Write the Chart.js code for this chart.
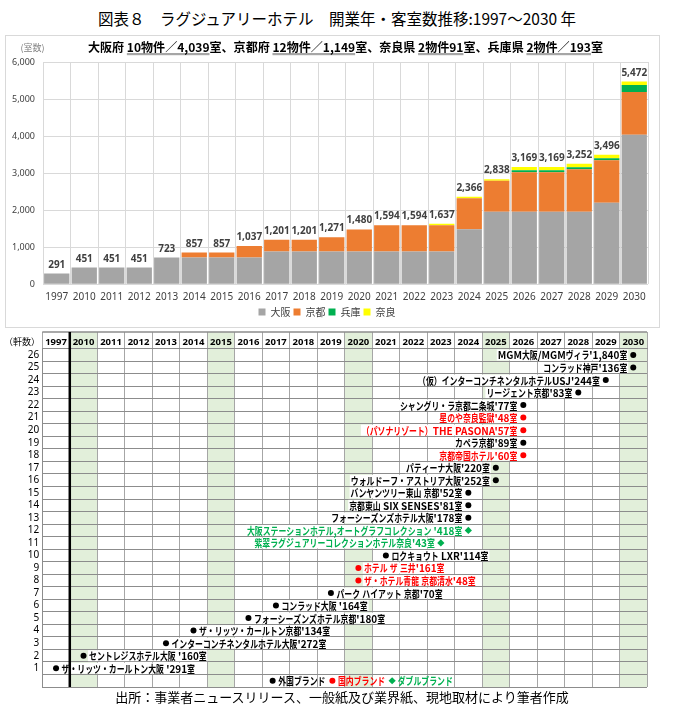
<!DOCTYPE html>
<html><head><meta charset="utf-8">
<script src="https://cdn.jsdelivr.net/npm/chart.js@4.4.1/dist/chart.umd.min.js"></script>
<style>
html,body{margin:0;padding:0;background:#fff;}
body{width:684px;height:711px;position:relative;overflow:hidden;font-family:"Noto Sans CJK JP","Noto Sans",sans-serif;}
#title{position:absolute;left:0;top:7px;width:674px;text-align:center;font-size:15.5px;color:#000;line-height:22px;}
#box1{position:absolute;left:5px;top:35px;width:653px;height:291px;border:1px solid #d9d9d9;}
#box2{position:absolute;left:0;top:328px;width:684px;height:368px;}
#source{position:absolute;left:0;top:687px;width:684px;text-align:center;font-size:13px;line-height:20px;color:#000;}
</style>
</head><body>
<div id="title">図表８　ラグジュアリーホテル　開業年・客室数推移:1997～2030 年</div>
<div id="box1"><canvas id="c1"></canvas></div>
<div id="box2"><canvas id="c2"></canvas></div>
<div id="source">出所：事業者ニュースリリース、一般紙及び業界紙、現地取材により筆者作成</div>
<script>
// ---------- data ----------
const years = ['1997','2010','2011','2012','2013','2014','2015','2016','2017','2018','2019','2020','2021','2022','2023','2024','2025','2026','2027','2028','2029','2030'];
const osakaRooms = [291,451,451,451,723,723,723,723,887,887,887,887,887,887,887,1483,1955,1955,1955,1955,2199,4039];
const kyotoRooms = [0,0,0,0,0,134,134,314,314,314,384,593,707,707,707,840,840,1066,1066,1149,1149,1149];
const hyogoRooms = [0,0,0,0,0,0,0,0,0,0,0,0,0,0,0,0,0,57,57,57,57,193];
const naraRooms  = [0,0,0,0,0,0,0,0,0,0,0,0,0,0,43,43,43,91,91,91,91,91];
const seriesNames = ['大阪','京都','兵庫','奈良'];
const subtitleParts = [['大阪府 ',0],['10物件／4,039',1],['室、京都府 ',0],['12物件／1,149',1],['室、奈良県 ',0],['2物件91',1],['室、兵庫県 ',0],['2物件／193',1],['室',0]];

const hotelNames = ['ザ・リッツ・カールトン大阪 ','セントレジスホテル大阪 ','インターコンチネンタルホテル大阪','ザ・リッツ・カールトン京都','フォーシーズンズホテル京都','コンラッド大阪 ','パーク ハイアット 京都','ザ・ホテル青龍 京都清水','ホテル ザ 三井','ロクキョウト LXR','紫翠ラグジュアリーコレクションホテル奈良','大阪ステーションホテル,オートグラフコレクション ','フォーシーズンズホテル大阪','京都東山 SIX SENSES','バンヤンツリー東山 京都','ウォルドーフ・アストリア大阪','パティーナ大阪','京都帝国ホテル','カペラ京都','（パソナリゾート）THE PASONA','星のや奈良監獄','シャングリ・ラ京都二条城','リージェント京都','（仮）インターコンチネンタルホテルUSJ','コンラッド神戸','MGM大阪/MGMヴィラ'];
const hotelRooms = ['291','160','272','134','180','164','70','48','161','114','43','418','178','81','52','252','220','60','89','57','48','77','83','244','136','1,840'];
const hotelYears = ['1997','2010','2013','2014','2016','2017','2019','2020','2020','2021','2023','2024','2024','2024','2024','2025','2025','2026','2026','2026','2026','2026','2028','2029','2030','2030'];
const hotelBrand = ['f','f','f','f','f','f','f','d','d','f','w','w','f','f','f','f','f','d','f','d','d','f','f','f','f','f'];
const brandLabels = {f:'外国ブランド', d:'国内ブランド', w:'ダブルブランド'};
const rowLabels = hotelNames.map((n,i)=>String(hotelNames.length - i)).concat(['']);

// ---------- styles ----------
const JP = '"Noto Sans CJK JP","Noto Sans",sans-serif';
Chart.defaults.font.family = JP;
const brandColor = {f:'#000000', d:'#FF0000', w:'#00B050'};
const SX_CJK = 0.75, SX_ASCII = 0.95;

function runs(text){ return text.match(/[\x20-\x7E]+|[^\x20-\x7E]+/g) || []; }
function mixedWidth(ctx, text){
  return runs(text).reduce((s,r)=>s + ctx.measureText(r).width * (/^[\x20-\x7E]/.test(r) ? SX_ASCII : SX_CJK), 0);
}
function drawMixed(ctx, text, x, y){
  let cx = x;
  runs(text).forEach(r=>{
    const s = /^[\x20-\x7E]/.test(r) ? SX_ASCII : SX_CJK;
    ctx.save(); ctx.translate(cx, y); ctx.scale(s,1); ctx.fillText(r, 0, 0); ctx.restore();
    cx += ctx.measureText(r).width * s;
  });
  return cx - x;
}

// ---------- chart 1 ----------
const barLabels = {
  id:'barLabels',
  afterDatasetsDraw(chart){
    const {ctx, scales:{x,y}} = chart;
    ctx.save();
    ctx.font = 'bold 10px "Noto Sans",sans-serif';
    ctx.fillStyle = '#404040';
    ctx.textAlign = 'center';
    ctx.textBaseline = 'alphabetic';
    years.forEach((yr,i)=>{
      const total = osakaRooms[i]+kyotoRooms[i]+hyogoRooms[i]+naraRooms[i];
      ctx.fillText(total.toLocaleString('en-US'), x.getPixelForValue(i), y.getPixelForValue(total)-6);
    });
    ctx.restore();
  },
  afterDraw(chart){
    const ctx = chart.ctx;
    ctx.save();
    ctx.font = '9px '+JP;
    ctx.fillStyle = '#808080';
    ctx.textAlign = 'center'; ctx.textBaseline = 'middle';
    ctx.fillText('(室数)', 26.5, 12);
    ctx.font = 'bold 12px '+JP;
    ctx.textAlign = 'left'; ctx.textBaseline = 'middle';
    const widths = subtitleParts.map(p=>ctx.measureText(p[0]).width);
    const nat = widths.reduce((a,b)=>a+b,0);
    const target = 515, sx = target/nat;
    ctx.translate(339.5 - target/2, 11);
    ctx.scale(sx,1);
    let cx = 0;
    subtitleParts.forEach((p,i)=>{
      if(p[1]){
        ctx.fillStyle = '#a6a6a6';
        ctx.fillRect(cx, 6, widths[i], 2.2);
      }
      ctx.fillStyle = '#000';
      ctx.fillText(p[0], cx, 0);
      cx += widths[i];
    });
    ctx.restore();
  }
};

new Chart(document.getElementById('c1'), {
  type:'bar',
  data:{labels:years, datasets:[
    {label:seriesNames[0], data:osakaRooms, backgroundColor:'#A5A5A5', borderWidth:0},
    {label:seriesNames[1], data:kyotoRooms, backgroundColor:'#ED7D31', borderWidth:0},
    {label:seriesNames[2], data:hyogoRooms, backgroundColor:'#00B050', borderWidth:0},
    {label:seriesNames[3], data:naraRooms, backgroundColor:'#FFFF00', borderWidth:0}
  ]},
  options:{
    responsive:true, maintainAspectRatio:false, animation:false,
    layout:{padding:{left:0,right:11,top:26,bottom:0}},
    datasets:{bar:{barPercentage:0.92, categoryPercentage:1}},
    scales:{
      x:{stacked:true, grid:{color:'#d9d9d9', drawTicks:false, offset:true}, border:{display:false},
         ticks:{padding:7, color:'#404040', font:{size:10, family:'"Noto Sans",sans-serif'}, autoSkip:false, maxRotation:0},
         afterFit:s=>{s.height=19.7;}},
      y:{stacked:true, min:0, max:6000, grid:{color:'#d9d9d9', drawTicks:false}, border:{display:false},
         ticks:{stepSize:1000, padding:8, color:'#404040', font:{size:9, family:'"Noto Sans",sans-serif'}, callback:v=>v.toLocaleString('en-US')},
         afterFit:s=>{s.width=37;}}
    },
    plugins:{
      legend:{position:'bottom', labels:{boxWidth:7, boxHeight:7, padding:3, color:'#404040', font:{size:10}}},
      tooltip:{enabled:false}
    }
  },
  plugins:[barLabels]
});

// ---------- chart 2 (timeline table) ----------
const HEADER_H = 16.7;
const tablePlugin = {
  id:'tablePlugin',
  beforeDraw(chart){
    const {ctx, scales:{x}, chartArea:ca} = chart;
    const colW = Math.abs(x.getPixelForValue(years[1]) - x.getPixelForValue(years[0]));
    ctx.save();
    ctx.fillStyle = '#E2EFDA';
    years.forEach(yr=>{
      const n = Number(yr);
      if(n >= 2010 && n % 5 === 0){
        const px = x.getPixelForValue(yr);
        ctx.fillRect(px - colW/2, ca.top - HEADER_H, colW, ca.bottom - ca.top + HEADER_H);
      }
    });
    ctx.restore();
  },
  beforeDatasetsDraw(chart){
    const {ctx, scales:{x,y}} = chart;
    const rowH = Math.abs(y.getPixelForValue(rowLabels[1]) - y.getPixelForValue(rowLabels[0]));
    ctx.save();
    ctx.font = 'bold 10.5px '+JP;
    ctx.textBaseline = 'middle';
    ctx.textAlign = 'left';
    hotelNames.forEach((name,i)=>{
      const row = i+1;
      const px = x.getPixelForValue(hotelYears[i]);
      const py = y.getPixelForValue(String(row));
      const text = name + "'" + hotelRooms[i] + '室';
      const w = mixedWidth(ctx, text);
      const x0 = row <= 10 ? px + 5.5 : px - 6 - w;
      ctx.fillStyle = '#fff';
      ctx.fillRect(x0 - 1, py - rowH/2 + 0.8, w + 2, rowH - 1.6);
      ctx.fillStyle = brandColor[hotelBrand[i]];
      drawMixed(ctx, text, x0, py + 0.5);
    });
    const ly = y.getPixelForValue('');
    let cx = x.getPixelForValue('2017') - 3.3;
    ['f','d','w'].forEach(k=>{
      ctx.fillStyle = brandColor[k];
      ctx.beginPath();
      if(k === 'w'){ ctx.moveTo(cx, ly-3.6); ctx.lineTo(cx+3.6, ly); ctx.lineTo(cx, ly+3.6); ctx.lineTo(cx-3.6, ly); ctx.closePath(); }
      else ctx.arc(cx, ly, 3, 0, Math.PI*2);
      ctx.fill();
      const w = drawMixed(ctx, brandLabels[k], cx + 5.5, ly + 0.5);
      cx += 5.5 + w + 7;
    });
    ctx.restore();
  },
  afterDraw(chart){
    const {ctx, scales:{x}, chartArea:ca} = chart;
    ctx.save();
    ctx.strokeStyle = '#8c8c8c'; ctx.lineWidth = 1.5;
    ctx.beginPath(); ctx.moveTo(ca.left, ca.top - HEADER_H); ctx.lineTo(ca.right, ca.top - HEADER_H); ctx.stroke();
    const bx = (x.getPixelForValue(years[0]) + x.getPixelForValue(years[1]))/2;
    ctx.strokeStyle = '#000'; ctx.lineWidth = 2.5;
    ctx.beginPath(); ctx.moveTo(bx, ca.top - HEADER_H); ctx.lineTo(bx, ca.bottom); ctx.stroke();
    ctx.font = '9px '+JP; ctx.fillStyle = '#000'; ctx.textAlign = 'center'; ctx.textBaseline = 'middle';
    ctx.fillText('（軒数）', 22, ca.top - HEADER_H/2 + 1);
    ctx.restore();
  }
};

const brandKeys = ['f','d','w'];
new Chart(document.getElementById('c2'), {
  type:'scatter',
  data:{datasets: brandKeys.map(k=>({
    label:brandLabels[k],
    data: hotelNames.map((n,i)=>({x:hotelYears[i], y:String(i+1), b:hotelBrand[i]})).filter(d=>d.b===k),
    pointStyle: k==='w' ? 'rectRot' : 'circle',
    pointRadius: k==='w' ? 3.6 : 3,
    pointHoverRadius: k==='w' ? 3.6 : 3,
    backgroundColor: brandColor[k], borderColor: brandColor[k], borderWidth:0
  }))},
  options:{
    responsive:true, maintainAspectRatio:false, animation:false,
    layout:{padding:{left:0,right:37,top:4,bottom:0}},
    scales:{
      x:{type:'category', labels:years, position:'top', offset:true,
         grid:{offset:true, color:'#a6a6a6', drawTicks:true, tickLength:HEADER_H, tickColor:'#a6a6a6'},
         border:{display:true, color:'#8c8c8c'},
         ticks:{padding:-15.9, color:'#000', font:{size:9.5, weight:'bold', family:'"Noto Sans",sans-serif'}, autoSkip:false, maxRotation:0},
         afterFit:s=>{s.height=HEADER_H;}},
      y:{type:'category', labels:rowLabels, offset:true,
         grid:{offset:true, color:'#8c8c8c', drawTicks:false},
         border:{display:true, color:'#8c8c8c'},
         ticks:{padding:3, color:'#000', font:{size:10, family:'"Noto Sans",sans-serif'}, autoSkip:false},
         afterFit:s=>{s.width=42.3;}}
    },
    plugins:{legend:{display:false}, tooltip:{enabled:false}}
  },
  plugins:[tablePlugin]
});
</script>
</body></html>
